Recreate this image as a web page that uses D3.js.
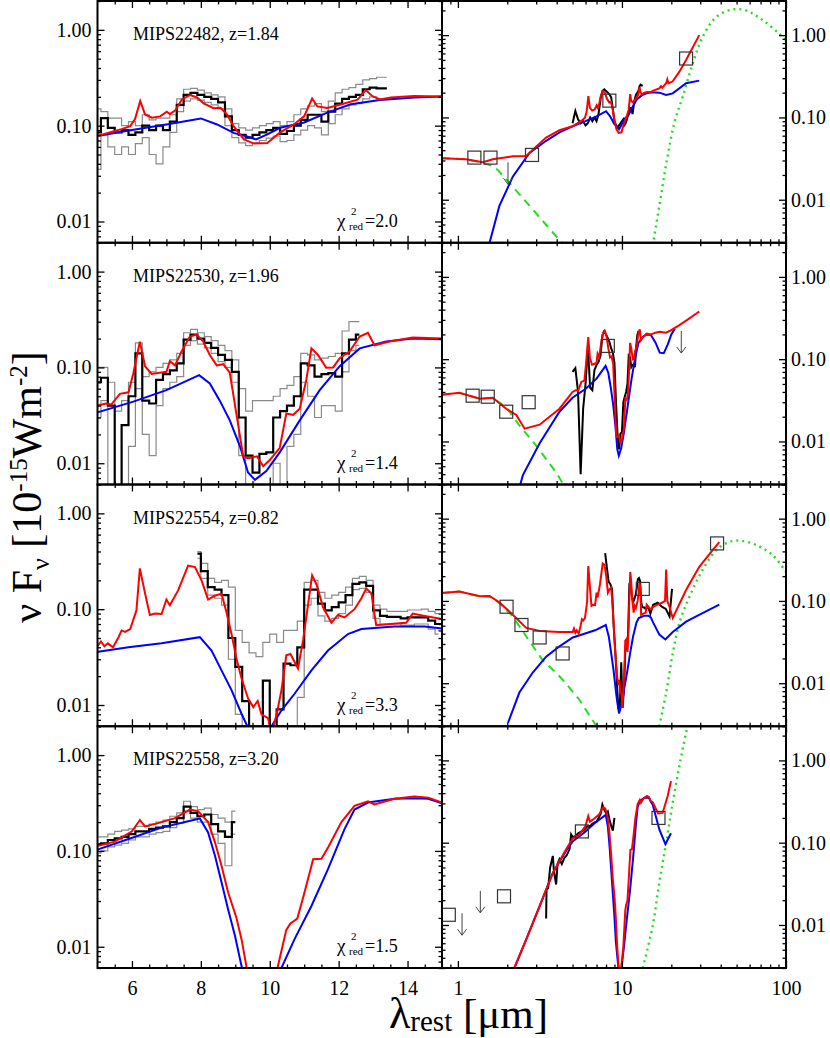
<!DOCTYPE html>
<html>
<head>
<meta charset="utf-8">
<script src="https://cdnjs.cloudflare.com/ajax/libs/d3/7.8.5/d3.min.js"></script>
<style>
body { margin: 0; background: #fff; }
svg text { font-family: "Liberation Serif", "Times New Roman", serif; fill: #000; }
</style>
</head>
<body>
<div id="chart"></div>
<script>
// ---- Data ----

var names = ["MIPS22482, z=1.84", "MIPS22530, z=1.96", "MIPS22554, z=0.82", "MIPS22558, z=3.20"];
var chiValues = ["2.0", "1.4", "3.3", "1.5"];

// IRS spectra (black) and error envelope (grey)
var spec1_lam = [5.0,5.2,5.4,5.6,5.8,6.0,6.2,6.4,6.6,6.8,7.0,7.2,7.4,7.6,7.8,8.0,8.2,8.4,8.6,8.8,9.0,9.2,9.4,9.6,9.8,10.0,10.2,10.4,10.6,10.8,11.0,11.2,11.4,11.6,11.8,12.0,12.2,12.4,12.6,12.8,13.0,13.2,13.4];
var spec1_flux = [0.085,0.12,0.095,0.085,0.09,0.08,0.085,0.10,0.09,0.1,0.09,0.11,0.165,0.21,0.22,0.21,0.2,0.19,0.175,0.125,0.09,0.08,0.075,0.08,0.085,0.09,0.095,0.082,0.088,0.1,0.115,0.13,0.13,0.11,0.14,0.17,0.19,0.2,0.21,0.24,0.25,0.245,0.245];
var spec1_hi = [0.15,0.14,0.12,0.12,0.1,0.11,0.1,0.13,0.115,0.12,0.12,0.13,0.19,0.24,0.245,0.235,0.22,0.21,0.2,0.15,0.105,0.095,0.09,0.095,0.1,0.105,0.11,0.1,0.11,0.13,0.15,0.16,0.17,0.14,0.18,0.22,0.24,0.25,0.27,0.3,0.31,0.32,0.32];
var spec1_lo = [0.035,0.08,0.06,0.05,0.06,0.05,0.065,0.075,0.05,0.04,0.06,0.085,0.14,0.18,0.19,0.185,0.175,0.165,0.15,0.1,0.075,0.066,0.062,0.066,0.07,0.074,0.078,0.068,0.07,0.08,0.09,0.1,0.095,0.08,0.105,0.13,0.15,0.165,0.17,0.19,0.2,0.19,0.19];

var spec2_lam = [5.0,5.2,5.4,5.6,5.8,6.0,6.2,6.4,6.6,6.8,7.0,7.2,7.4,7.6,7.8,8.0,8.2,8.4,8.6,8.8,9.0,9.2,9.4,9.6,9.8,10.0,10.2,10.4,10.6,10.8,11.0,11.2,11.4,11.6,11.8,12.0,12.2,12.4,12.6];
var spec2_flux = [0.07,0.078,0.04,0.004,0.025,0.05,0.14,0.045,0.042,0.074,0.085,0.093,0.11,0.195,0.22,0.2,0.18,0.16,0.135,0.12,0.09,0.03,0.012,0.008,0.0125,0.013,0.03,0.035,0.04,0.05,0.11,0.105,0.08,0.085,0.087,0.08,0.14,0.195,0.22];
var spec2_hi = [0.1,0.1,0.07,0.035,0.045,0.07,0.18,0.08,0.09,0.1,0.11,0.12,0.14,0.23,0.25,0.23,0.21,0.19,0.17,0.15,0.12,0.06,0.035,0.045,0.045,0.045,0.05,0.06,0.065,0.08,0.14,0.135,0.12,0.125,0.13,0.14,0.24,0.3,0.3];
var spec2_lo = [0.03,0.045,0.004,0.004,0.004,0.015,0.06,0.02,0.012,0.04,0.06,0.07,0.08,0.17,0.19,0.175,0.16,0.14,0.115,0.1,0.07,0.012,0.004,0.004,0.004,0.004,0.01,0.006,0.015,0.02,0.07,0.05,0.03,0.04,0.04,0.035,0.09,0.15,0.17];

var spec3_lam = [7.9,8.1,8.3,8.5,8.7,8.9,9.1,9.3,9.5,9.7,9.9,10.1,10.3,10.5,10.7,10.9,11.1,11.3,11.5,11.7,11.9,12.1,12.3,12.5,12.7,12.9,13.1,13.3,13.5,13.7,13.9,14.1,14.3,14.5,14.7,14.9,15.5,16.5,17.5,18.5,19.5,20.2];
var spec3_flux = [0.38,0.25,0.17,0.16,0.14,0.05,0.025,0.011,0.005,0.005,0.018,0.005,0.009,0.027,0.026,0.04,0.16,0.16,0.114,0.097,0.105,0.118,0.14,0.184,0.19,0.175,0.097,0.085,0.083,0.083,0.08,0.082,0.082,0.082,0.076,0.07,0.09,0.095,0.085,0.08,0.065,0.14];
var err3_lam = [7.9,8.1,8.3,8.5,8.7,8.9,9.1,9.3,9.5,9.7,9.9,10.1,10.3,10.5,10.7,10.9,11.1,11.3,11.5,11.7,11.9,12.1,12.3,12.5,12.7,12.9,13.1,13.3,13.5,13.7,13.9,14.1,14.3,14.5,14.7,14.9];
var err3_hi = [0.4,0.3,0.21,0.19,0.2,0.17,0.06,0.045,0.035,0.032,0.045,0.055,0.045,0.06,0.06,0.075,0.19,0.2,0.15,0.13,0.14,0.15,0.17,0.21,0.22,0.2,0.11,0.1,0.095,0.095,0.095,0.098,0.098,0.1,0.095,0.09];
var err3_lo = [0.34,0.21,0.14,0.13,0.11,0.03,0.008,0.004,0.004,0.004,0.004,0.004,0.004,0.004,0.004,0.012,0.11,0.13,0.085,0.075,0.08,0.09,0.11,0.16,0.165,0.15,0.08,0.07,0.07,0.07,0.068,0.068,0.07,0.07,0.062,0.055];

var spec4_lam = [3.45,3.47,3.55,3.65,3.79,3.85,3.97,4.05,4.16,4.3,4.45,4.6,4.79,4.9,5.0,5.2,5.4,5.6,5.8,6.0,6.2,6.4,6.6,6.8,7.0,7.2,7.4,7.6,7.8,8.0,8.2,8.4,8.6,8.8,9.0];
var spec4_flux = [0.012,0.027,0.028,0.05,0.069,0.045,0.031,0.055,0.063,0.055,0.065,0.07,0.083,0.126,0.117,0.12,0.13,0.135,0.14,0.15,0.16,0.16,0.17,0.175,0.18,0.2,0.22,0.29,0.25,0.23,0.24,0.19,0.16,0.14,0.2];
var err4_lam = [5.0,5.2,5.4,5.6,5.8,6.0,6.2,6.4,6.6,6.8,7.0,7.2,7.4,7.6,7.8,8.0,8.2,8.4,8.6,8.8,9.0];
var err4_hi = [0.14,0.14,0.15,0.16,0.165,0.17,0.18,0.18,0.19,0.2,0.21,0.23,0.25,0.33,0.29,0.27,0.28,0.24,0.22,0.2,0.26];
var err4_lo = [0.095,0.1,0.11,0.115,0.12,0.13,0.14,0.14,0.15,0.155,0.16,0.175,0.195,0.26,0.22,0.2,0.2,0.15,0.12,0.07,0.15];

// total model (red), AGN/dust model (blue), stars (green dashed), cold dust (green dotted)
var red1 = [[0.8,0.032],[1.12,0.031],[1.42,0.0285],[1.63,0.031],[2.16,0.0337],[2.61,0.034],[2.86,0.0405],[3.45,0.057],[4.16,0.07],
  [5.0,0.078],[5.4,0.086],[5.7,0.092],[5.95,0.099],[6.09,0.117],[6.24,0.181],[6.38,0.131],[6.58,0.121],[6.82,0.125],[7.01,0.14],[7.1,0.132],[7.26,0.145],[7.45,0.188],[7.69,0.209],[7.89,0.197],[8.08,0.171],[8.37,0.152],[8.57,0.154],[8.76,0.131],[8.95,0.099],[9.25,0.072],[9.54,0.065],[9.93,0.066],[10.3,0.085],[10.7,0.103],[11.0,0.126],[11.23,0.192],[11.38,0.159],[11.67,0.153],[12.06,0.166],[12.55,0.187],[12.79,0.235],[12.98,0.203],[13.2,0.188],[13.52,0.197],[14.19,0.204],[15.0,0.202],
  [15.4,0.21],[16.9,0.225],[17.3,0.24],[17.6,0.23],[18.6,0.26],[18.9,0.29],[19.2,0.26],[20.4,0.275],[22.4,0.36],[24.6,0.5],[29.6,1.0]];
var blue1 = [[1.56,0.003],[1.79,0.0084],[2.16,0.019],[2.73,0.037],[3.45,0.052],[4.16,0.066],[5.0,0.078],[6.0,0.09],[7.0,0.103],[8.0,0.119],[8.47,0.103],[8.95,0.084],[9.34,0.077],[9.6,0.072],[9.93,0.081],[10.3,0.095],[11.0,0.108],[11.67,0.137],[12.35,0.167],[13.2,0.185],[14.2,0.197],[15.0,0.202],[16.9,0.2],[18.6,0.187],[20.4,0.196],[24.6,0.26],[29.6,0.28]];
var star1 = [[0.8,0.032],[1.12,0.031],[1.42,0.028],[1.6,0.026],[1.75,0.023],[2.16,0.0144],[2.86,0.0076],[3.97,0.0036],[4.4,0.0029]];
var dust1 = [[15.4,0.0028],[16.9,0.0084],[18.6,0.027],[20.9,0.087],[23.5,0.18],[27,0.45],[31,0.95],[37.7,1.67],[47,2.05],[57,2.0],[72,1.52],[90.5,1.05],[100,0.87]];
var phot1 = [[1.26,0.0325],[1.58,0.0325],[2.83,0.035],[8.38,0.16],[24.6,0.52]];
var limit1 = [[2.02,0.0285]];

var red2 = [[0.8,0.037],[1.02,0.039],[1.36,0.033],[1.63,0.034],[1.97,0.025],[2.27,0.021],[2.55,0.0143],[3.15,0.016],[4.16,0.025],
  [5.0,0.04],[5.25,0.042],[5.4,0.041],[5.65,0.053],[5.9,0.055],[6.04,0.087],[6.23,0.186],[6.38,0.103],[6.57,0.0855],[6.81,0.088],[7.0,0.09],[7.1,0.116],[7.25,0.105],[7.44,0.147],[7.68,0.21],[7.88,0.22],[8.07,0.186],[8.26,0.135],[8.46,0.105],[8.65,0.108],[8.84,0.088],[9.03,0.033],[9.23,0.0118],[9.37,0.0113],[9.63,0.0118],[9.81,0.0093],[10.0,0.0108],[10.29,0.0145],[10.48,0.033],[10.68,0.032],[10.87,0.037],[11.06,0.074],[11.21,0.158],[11.4,0.135],[11.64,0.099],[11.84,0.1],[12.03,0.125],[12.32,0.147],[12.61,0.21],[12.85,0.23],[13.04,0.17],[13.48,0.186],[14.15,0.205],[15.0,0.2],
  [16.0,0.21],[17.0,0.215],[18.5,0.21],[19.5,0.22],[21.0,0.24],[22.4,0.26],[25.0,0.3],[29.6,0.38]];
var blue2 = [[2.4,0.003],[2.49,0.0039],[3.15,0.0095],[4.16,0.023],[5.0,0.034],[6.04,0.044],[7.0,0.058],[7.95,0.083],[8.26,0.068],[8.55,0.045],[8.84,0.028],[9.13,0.0152],[9.37,0.008],[9.57,0.0067],[9.9,0.0083],[10.29,0.013],[10.87,0.028],[11.45,0.058],[12.03,0.103],[12.61,0.158],[13.38,0.186],[14.15,0.2],[15.0,0.197],[16.0,0.16],[17.0,0.12],[18.0,0.118],[19.0,0.15],[20.0,0.2],[21.0,0.235]];
var star2 = [[0.8,0.037],[1.02,0.039],[1.36,0.033],[1.63,0.034],[1.97,0.026],[2.37,0.0157],[3.0,0.0089],[3.97,0.0042],[4.4,0.003]];
var dust2 = [];
var phot2 = [[1.23,0.036],[1.52,0.035],[1.97,0.023],[2.7,0.03],[8.2,0.145]];
var limit2 = [[23,0.22]];

var red3 = [[0.8,0.125],[1.02,0.13],[1.36,0.114],[1.56,0.115],[1.79,0.096],[2.16,0.068],[2.61,0.047],[3.15,0.043],[4.16,0.042],
  [5.02,0.042],[5.1,0.046],[5.2,0.041],[5.3,0.044],[5.45,0.04],[5.6,0.05],[5.7,0.06],[5.8,0.058],[5.95,0.062],[6.13,0.097],[6.23,0.266],[6.38,0.146],[6.52,0.087],[6.67,0.09],[6.86,0.089],[7.0,0.126],[7.1,0.11],[7.34,0.157],[7.63,0.285],[7.83,0.275],[8.02,0.2],[8.21,0.126],[8.4,0.138],[8.6,0.145],[8.74,0.094],[8.89,0.055],[9.03,0.031],[9.18,0.019],[9.37,0.0117],[9.52,0.0095],[9.65,0.011],[9.76,0.008],[9.95,0.0073],[10.05,0.005],[10.2,0.008],[10.34,0.0143],[10.48,0.033],[10.6,0.034],[10.82,0.024],[10.97,0.048],[11.11,0.11],[11.23,0.225],[11.36,0.18],[11.55,0.104],[11.79,0.072],[11.98,0.087],[12.17,0.082],[12.46,0.1],[12.66,0.13],[12.8,0.165],[12.95,0.146],[13.09,0.068],[13.5,0.07],[13.96,0.072],[14.15,0.09],[14.5,0.085],[15.0,0.079],
  [15.5,0.085],[16.5,0.09],[17.5,0.095],[18.3,0.1],[18.6,0.24],[18.9,0.1],[19.5,0.085],[20.4,0.062],[24.6,0.136],[29.6,0.26],[35.7,0.415],[39.2,0.52]];
var blue3 = [[2.02,0.0033],[2.37,0.0077],[2.86,0.0135],[3.45,0.021],[4.16,0.028],[5.02,0.036],[5.9,0.04],[6.86,0.044],[7.97,0.051],[8.31,0.037],[8.6,0.023],[8.89,0.0143],[9.18,0.0081],[9.35,0.006],[9.6,0.0043],[10.05,0.006],[10.34,0.0088],[10.72,0.0131],[11.21,0.023],[11.69,0.037],[12.27,0.055],[12.66,0.062],[13.62,0.066],[14.5,0.066],[15.0,0.063],[15.4,0.056],[16.9,0.039],[18.4,0.034],[20.4,0.042],[24.6,0.056],[31,0.071],[39.2,0.09]];
var star3 = [[0.8,0.125],[1.02,0.13],[1.36,0.114],[1.56,0.113],[1.79,0.094],[2.16,0.065],[2.61,0.037],[3.29,0.019],[3.97,0.0134],[4.36,0.011],[5.5,0.0063],[7.0,0.003]];
var dust3 = [[16.9,0.003],[18.6,0.0077],[20.4,0.023],[22.4,0.054],[25.8,0.113],[31,0.238],[37.6,0.415],[45,0.52],[53,0.54],[65.6,0.48],[83,0.36],[100,0.225]];
var phot3 = [[1.98,0.085],[2.44,0.051],[3.15,0.036],[4.35,0.023],[13.4,0.14],[38,0.5]];
var limit3 = [];

var red4 = [[2.21,0.003],[2.61,0.0067],[3.15,0.017],[3.79,0.043],[4.57,0.083],
  [5.02,0.113],[5.5,0.125],[6.0,0.16],[6.23,0.21],[6.38,0.18],[6.76,0.195],[7.25,0.22],[7.68,0.27],[7.92,0.26],[8.21,0.2],[8.41,0.123],[8.6,0.07],[8.79,0.037],[9.03,0.0202],[9.18,0.012],[9.35,0.0055],[9.7,0.002],[10.2,0.0055],[10.48,0.015],[10.6,0.0175],[10.8,0.0197],[11.01,0.037],[11.26,0.082],[11.5,0.083],[11.7,0.11],[12.08,0.2],[12.46,0.295],[12.85,0.33],[13.04,0.305],[13.62,0.35],[14.2,0.37],[14.6,0.36],[15.0,0.32],
  [15.4,0.31],[16.6,0.227],[17.7,0.23],[19.0,0.37],[19.9,0.56]];
var blue4 = [[2.21,0.003],[2.61,0.0067],[3.15,0.017],[3.79,0.043],[4.57,0.08],[5.02,0.104],[5.9,0.133],[6.86,0.175],[7.97,0.218],[8.21,0.156],[8.41,0.089],[8.6,0.047],[8.79,0.0246],[8.99,0.013],[9.18,0.0063],[9.7,0.002],[10.29,0.0055],[10.72,0.012],[11.21,0.0266],[11.69,0.0645],[12.17,0.169],[12.46,0.27],[12.85,0.32],[13.62,0.35],[14.2,0.355],[14.6,0.35],[15.0,0.315],[15.4,0.29],[16.9,0.145],[18.4,0.096],[19.9,0.13]];
var star4 = [];
var dust4 = [[13.4,0.003],[15.4,0.0098],[16.9,0.033],[18.6,0.1],[20.9,0.405],[23,1.13],[25,2.5],[27,4.5]];
var phot4 = [[0.88,0.0133],[1.91,0.0223],[5.7,0.137],[16.7,0.2]];
var limit4 = [[1.06,0.0139],[1.37,0.026]];

// ---- Layout ----
var width = 830, height = 1038;
var xLeft0 = 97.5, xMid = 442, xRight1 = 786;
var top0 = 1, rowH = 241.75;
var fontFam = '"Liberation Serif", "Times New Roman", serif';
var grey = "#8a8a8a", green = "#22dd22";

function pairs(lam, f) { return lam.map(function(l, i) { return [l, f[i]]; }); }

var sources = [
  { spec: pairs(spec1_lam, spec1_flux), hi: pairs(spec1_lam, spec1_hi), lo: pairs(spec1_lam, spec1_lo), red: red1, blue: blue1, star: star1, dust: dust1, phot: phot1, lim: limit1 },
  { spec: pairs(spec2_lam, spec2_flux), hi: pairs(spec2_lam, spec2_hi), lo: pairs(spec2_lam, spec2_lo), red: red2, blue: blue2, star: star2, dust: dust2, phot: phot2, lim: limit2 },
  { spec: pairs(spec3_lam, spec3_flux), hi: pairs(err3_lam, err3_hi), lo: pairs(err3_lam, err3_lo), red: red3, blue: blue3, star: star3, dust: dust3, phot: phot3, lim: limit3 },
  { spec: pairs(spec4_lam, spec4_flux), hi: pairs(err4_lam, err4_hi), lo: pairs(err4_lam, err4_lo), red: red4, blue: blue4, star: star4, dust: dust4, phot: phot4, lim: limit4 }
];

var svg = d3.select("#chart").append("svg")
  .attr("width", width).attr("height", height);
var defs = svg.append("defs");

var xLin = d3.scaleLinear().domain([5, 15]).range([xLeft0, xMid]);
var xLog = d3.scaleLog().domain([0.8, 100]).range([xMid, xRight1]);

function isDecade(v) { var l = Math.log10(v); return Math.abs(l - Math.round(l)) < 1e-6; }
var linMajor = [6, 8, 10, 12, 14];
var linMinor = d3.range(5.5, 15, 0.5).filter(function(v) { return linMajor.indexOf(v) == -1; });
var logXMajor = [1, 10, 100];
var logXMinor = xLog.ticks().filter(function(v) { return !isDecade(v); });

function styleAxis(g, fs) {
  g.select(".domain").remove();
  g.selectAll(".tick line").attr("stroke", "#000").attr("stroke-width", 1.3);
  g.attr("font-family", fontFam).attr("font-size", fs);
  g.selectAll("text").attr("fill", "#000");
}

function addAxis(axis, tx, ty, majors, minors, fmt) {
  var g = svg.append("g").attr("transform", "translate(" + tx + "," + ty + ")");
  g.call(axis.tickValues(majors).tickSize(-7).tickFormat(fmt));
  styleAxis(g, 20);
  var g2 = svg.append("g").attr("transform", "translate(" + tx + "," + ty + ")");
  g2.call(axis.tickValues(minors).tickSize(-3.5).tickFormat(""));
  styleAxis(g2, 20);
  return g;
}

sources.forEach(function(s, r) {
  var y0 = top0 + r * rowH, y1 = y0 + rowH;
  var yL = d3.scaleLog().domain([0.006, 2]).range([y1, y0]);
  var yR = d3.scaleLog().domain([0.003, 2.6]).range([y1, y0]);
  var yLMinor = yL.ticks().filter(function(v) { return !isDecade(v); });
  var yRMinor = yR.ticks().filter(function(v) { return !isDecade(v); });
  var yMajor = [0.01, 0.1, 1];

  defs.append("clipPath").attr("id", "clipL" + r).append("rect")
    .attr("x", xLeft0).attr("y", y0).attr("width", xMid - xLeft0).attr("height", rowH);
  defs.append("clipPath").attr("id", "clipR" + r).append("rect")
    .attr("x", xMid).attr("y", y0).attr("width", xRight1 - xMid).attr("height", rowH);

  var stepL = d3.line().curve(d3.curveStep)
    .x(function(d) { return xLin(d[0]); }).y(function(d) { return yL(d[1]); });
  var lineL = d3.line()
    .x(function(d) { return xLin(d[0]); }).y(function(d) { return yL(d[1]); });
  var lineR = d3.line()
    .x(function(d) { return xLog(d[0]); }).y(function(d) { return yR(d[1]); });
  var smoothR = d3.line().curve(d3.curveCatmullRom)
    .x(function(d) { return xLog(d[0]); }).y(function(d) { return yR(d[1]); });

  // left panel: zoom on the IRS spectrum
  var pL = svg.append("g").attr("clip-path", "url(#clipL" + r + ")");
  pL.append("path").attr("d", stepL(s.hi)).attr("fill", "none").attr("stroke", grey).attr("stroke-width", 1.2);
  pL.append("path").attr("d", stepL(s.lo)).attr("fill", "none").attr("stroke", grey).attr("stroke-width", 1.2);
  pL.append("path").attr("d", stepL(s.spec)).attr("fill", "none").attr("stroke", "#000").attr("stroke-width", 2.2);
  pL.append("path").attr("d", lineL(s.blue)).attr("fill", "none").attr("stroke", "#0000ff").attr("stroke-width", 2);
  pL.append("path").attr("d", lineL(s.red)).attr("fill", "none").attr("stroke", "#ff0000").attr("stroke-width", 2);

  // right panel: full SED
  var pR = svg.append("g").attr("clip-path", "url(#clipR" + r + ")");
  pR.append("path").attr("d", lineR(s.spec)).attr("fill", "none").attr("stroke", "#000").attr("stroke-width", 2);
  if (s.star.length)
    pR.append("path").attr("d", lineR(s.star)).attr("fill", "none").attr("stroke", green)
      .attr("stroke-width", 2).attr("stroke-dasharray", "8,6");
  if (s.dust.length)
    pR.append("path").attr("d", smoothR(s.dust)).attr("fill", "none").attr("stroke", green)
      .attr("stroke-width", 2.4).attr("stroke-dasharray", "2,4");
  pR.append("path").attr("d", lineR(s.blue)).attr("fill", "none").attr("stroke", "#0000ff").attr("stroke-width", 2);
  pR.append("path").attr("d", lineR(s.red)).attr("fill", "none").attr("stroke", "#ff0000").attr("stroke-width", 2);

  pR.selectAll("rect.phot").data(s.phot).enter().append("rect")
    .attr("class", "phot")
    .attr("x", function(d) { return xLog(d[0]) - 6.5; })
    .attr("y", function(d) { return yR(d[1]) - 6.5; })
    .attr("width", 13).attr("height", 13)
    .attr("fill", "none").attr("stroke", "#333").attr("stroke-width", 1.2);

  var arrows = pR.selectAll("g.lim").data(s.lim).enter().append("g").attr("class", "lim")
    .attr("transform", function(d) { return "translate(" + xLog(d[0]) + "," + yR(d[1]) + ")"; });
  arrows.append("line").attr("x1", 0).attr("y1", 0).attr("x2", 0).attr("y2", 22)
    .attr("stroke", "#444").attr("stroke-width", 1);
  arrows.append("polyline").attr("points", "-4.5,16 0,22 4.5,16")
    .attr("fill", "none").attr("stroke", "#444").attr("stroke-width", 1);

  // frames
  svg.append("rect").attr("x", xLeft0).attr("y", y0).attr("width", xMid - xLeft0).attr("height", rowH)
    .attr("fill", "none").attr("stroke", "#000").attr("stroke-width", 2);
  svg.append("rect").attr("x", xMid).attr("y", y0).attr("width", xRight1 - xMid).attr("height", rowH)
    .attr("fill", "none").attr("stroke", "#000").attr("stroke-width", 2);

  // y axes
  addAxis(d3.axisLeft(yL).tickPadding(6), xLeft0, 0, yMajor, yLMinor, d3.format(".2f"));
  var gm = svg.append("g").attr("transform", "translate(" + xMid + ",0)");
  gm.call(d3.axisLeft(yL).tickValues(yMajor).tickSize(7).tickFormat("")); styleAxis(gm, 20);
  gm = svg.append("g").attr("transform", "translate(" + xMid + ",0)");
  gm.call(d3.axisLeft(yL).tickValues(yLMinor).tickSize(3.5).tickFormat("")); styleAxis(gm, 20);
  gm = svg.append("g").attr("transform", "translate(" + xMid + ",0)");
  gm.call(d3.axisRight(yR).tickValues(yMajor).tickSize(7).tickFormat("")); styleAxis(gm, 20);
  gm = svg.append("g").attr("transform", "translate(" + xMid + ",0)");
  gm.call(d3.axisRight(yR).tickValues(yRMinor).tickSize(3.5).tickFormat("")); styleAxis(gm, 20);
  addAxis(d3.axisRight(yR).tickPadding(5), xRight1, 0, yMajor, yRMinor, d3.format(".2f"));

  // x axes
  var last = (r == sources.length - 1);
  addAxis(d3.axisTop(xLin), 0, y0, linMajor, linMinor, "");
  addAxis(d3.axisBottom(xLin).tickPadding(13), 0, y1, linMajor, linMinor, last ? d3.format("d") : "");
  addAxis(d3.axisTop(xLog), 0, y0, logXMajor, logXMinor, "");
  addAxis(d3.axisBottom(xLog).tickPadding(13), 0, y1, logXMajor, logXMinor, last ? d3.format("d") : "");

  // labels
  svg.append("text").attr("x", 133).attr("y", y0 + 39).attr("font-size", 18).text(names[r]);
  var cx = 337, cy = y0 + 226;
  svg.append("text").attr("x", cx).attr("y", cy).attr("font-size", 19).text("\u03C7");
  svg.append("text").attr("x", cx + 14).attr("y", cy - 12).attr("font-size", 11).text("2");
  svg.append("text").attr("x", cx + 12).attr("y", cy + 3).attr("font-size", 11).text("red");
  svg.append("text").attr("x", cx + 28).attr("y", cy).attr("font-size", 18).text("=" + chiValues[r]);
});

// axis titles
var yt = svg.append("text").attr("transform", "translate(41,487) rotate(-90)")
  .attr("text-anchor", "middle").attr("font-size", 42);
yt.append("tspan").text("\u03BD F");
yt.append("tspan").attr("font-size", 26).attr("dy", 8).text("\u03BD");
yt.append("tspan").attr("dy", -8).text(" [10");
yt.append("tspan").attr("font-size", 25).attr("dy", -14).text("-15");
yt.append("tspan").attr("dy", 14).text("Wm");
yt.append("tspan").attr("font-size", 25).attr("dy", -14).text("-2");
yt.append("tspan").attr("dy", 14).text("]");

var xt = svg.append("text").attr("x", 389).attr("y", 1028).attr("font-size", 44);
xt.append("tspan").text("\u03BB");
xt.append("tspan").attr("font-size", 29).attr("dy", 3).text("rest");
xt.append("tspan").attr("dy", -3).attr("font-size", 43).text(" [\u03BCm]");
</script>
</body>
</html>
